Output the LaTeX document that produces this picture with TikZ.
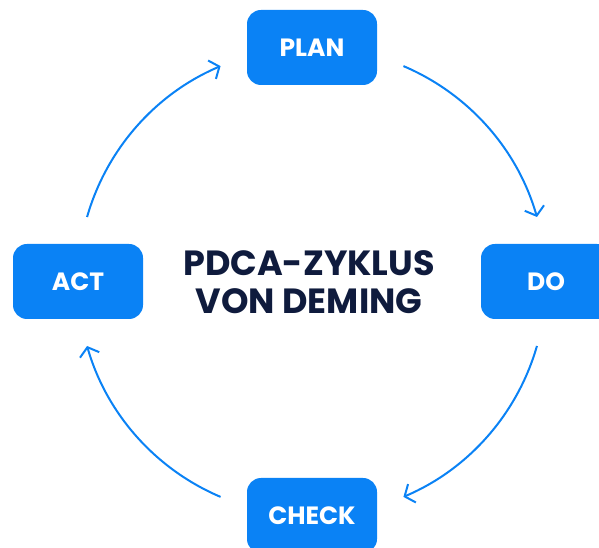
\documentclass[tikz,border=0pt]{standalone}
\usepackage{fontspec}
\setmainfont{Poppins}
\usetikzlibrary{arrows.meta}
\definecolor{pdcablue}{HTML}{0A82F5}
\definecolor{pdcanavy}{HTML}{0F1B3D}
\tikzset{
    phase/.style={fill=pdcablue, rounded corners=14pt, minimum width=130pt,
        minimum height=75pt, text=white, font=\fontsize{25}{30}\selectfont\bfseries},
    cycle arrow/.style={draw=pdcablue, line width=2pt,
        -{Straight Barb[length=8pt, width=20pt, line width=2pt]}},
}

\begin{document}
\begin{tikzpicture}[x=1pt, y=1pt]
    \useasboundingbox (0,0) rectangle (599,548);
    \clip (0,0) rectangle (599,548);

    \node[align=center, text=pdcanavy, font=\fontsize{35}{38}\selectfont\bfseries]
        (title) at (309,265.5) {PDCA-ZYKLUS\\VON DEMING};
    \coordinate (center) at (312,266.5);

    \node[phase] (plan) at (312,500.5) {PLAN};
    \node[phase] (do) at (546,266.5) {DO};
    \node[phase] (check) at (312,32.5) {CHECK};
    \node[phase] (act) at (78,266.5) {ACT};

    % arcs of the cycle
    \draw[cycle arrow] ([shift={(67:234)}]center) arc[start angle=67, end angle=16, radius=234];
    \draw[cycle arrow] ([shift={(-16:234)}]center) arc[start angle=-16, end angle=-67, radius=234];
    \draw[cycle arrow] ([shift={(247:234)}]center) arc[start angle=247, end angle=196, radius=234];
    \draw[cycle arrow] ([shift={(164:234)}]center) arc[start angle=164, end angle=113, radius=234];
\end{tikzpicture}
\end{document}
